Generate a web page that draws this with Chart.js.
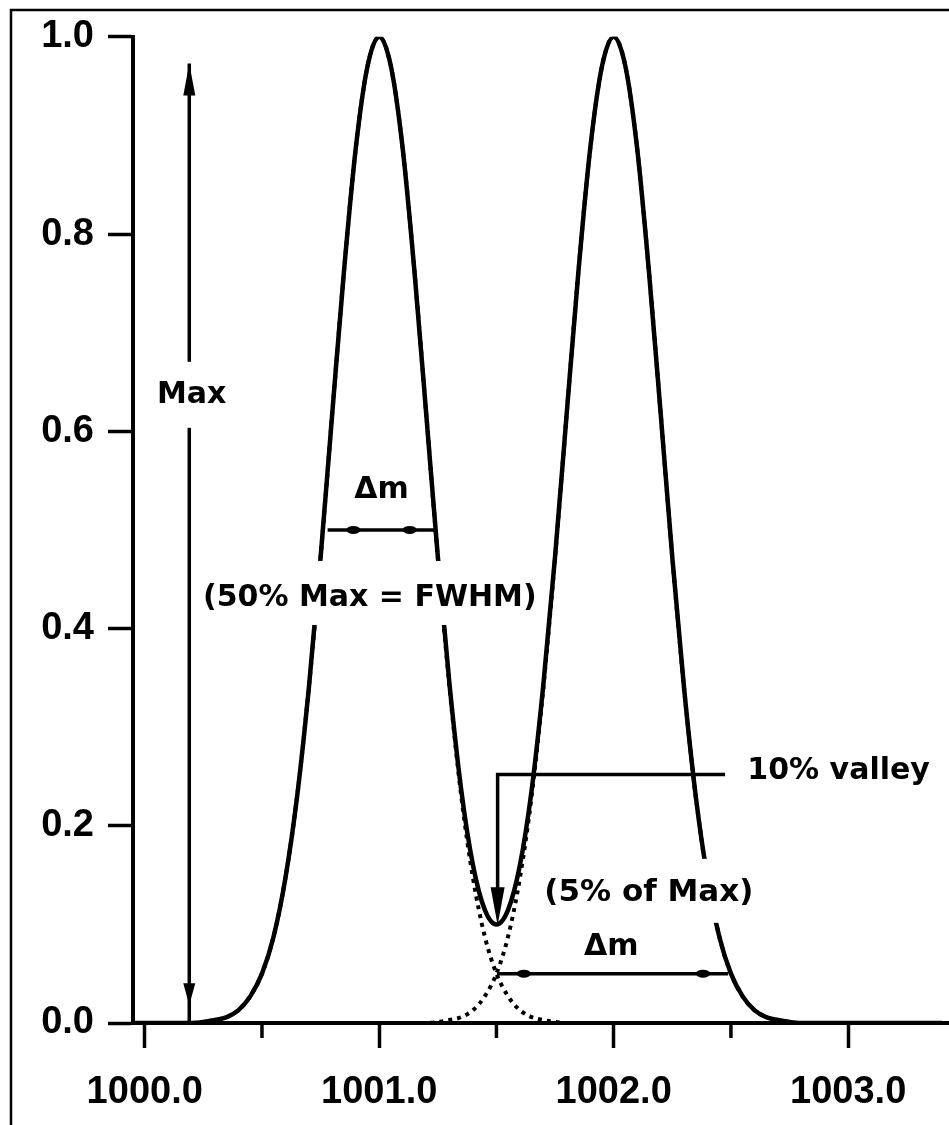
<!DOCTYPE html>
<html>
<head>
<meta charset="utf-8">
<script src="https://cdn.jsdelivr.net/npm/chart.js"></script>
<style>
  html, body { margin: 0; padding: 0; background: #fff; }
  #wrap { width: 949px; height: 1125px; position: relative; }
</style>
</head>
<body>
<div id="wrap"><canvas id="peakChart"></canvas></div>
<script>
// mass axis (m/z), sampled every 0.05
const massAxis = [
    999.95, 1000.00, 1000.05, 1000.10, 1000.15, 1000.20, 1000.25, 1000.30, 1000.35, 1000.40,
    1000.45, 1000.50, 1000.55, 1000.60, 1000.65, 1000.70, 1000.75, 1000.80, 1000.85, 1000.90,
    1000.95, 1001.00, 1001.05, 1001.10, 1001.15, 1001.20, 1001.25, 1001.30, 1001.35, 1001.40,
    1001.45, 1001.50, 1001.55, 1001.60, 1001.65, 1001.70, 1001.75, 1001.80, 1001.85, 1001.90,
    1001.95, 1002.00, 1002.05, 1002.10, 1002.15, 1002.20, 1002.25, 1002.30, 1002.35, 1002.40,
    1002.45, 1002.50, 1002.55, 1002.60, 1002.65, 1002.70, 1002.75, 1002.80, 1002.85, 1002.90,
    1002.95, 1003.00, 1003.05, 1003.10, 1003.15, 1003.20, 1003.25, 1003.30, 1003.35, 1003.40,
];

// observed (summed) signal, solid line
const totalSignal = [
    0, 0, 0, 0, 0, 0, 0.001, 0.003, 0.006, 0.013,
    0.027, 0.050, 0.088, 0.147, 0.230, 0.340, 0.472, 0.619, 0.763, 0.887,
    0.970, 1.000, 0.970, 0.887, 0.763, 0.619, 0.473, 0.343, 0.236, 0.160,
    0.115, 0.100, 0.115, 0.160, 0.236, 0.343, 0.473, 0.619, 0.763, 0.887,
    0.970, 1.000, 0.970, 0.887, 0.763, 0.619, 0.472, 0.340, 0.230, 0.147,
    0.088, 0.050, 0.027, 0.013, 0.006, 0.003, 0.001, 0, 0, 0,
    0, 0, 0, 0, 0, 0, 0, 0, 0, 0,
];

// single peak at 1001.0, dotted
const peakOne = [
    null, null, null, null, null, 0, 0.001, 0.003, 0.006, 0.013,
    0.027, 0.050, 0.088, 0.147, 0.230, 0.340, 0.472, 0.619, 0.763, 0.887,
    0.970, 1.000, 0.970, 0.887, 0.763, 0.619, 0.472, 0.340, 0.230, 0.147,
    0.088, 0.050, 0.027, 0.013, 0.006, 0.003, 0.001, 0, 0, 0,
    0, 0, 0, 0, 0, 0, 0, 0, 0, 0,
    0, 0, 0, 0, 0, null, null, null, null, null,
    null, null, null, null, null, null, null, null, null, null,
];

// single peak at 1002.0, dotted
const peakTwo = [
    null, null, null, null, null, null, null, null, null, null,
    null, null, null, null, null, null, null, null, null, null,
    0, 0, 0, 0, 0, 0, 0.001, 0.003, 0.006, 0.013,
    0.027, 0.050, 0.088, 0.147, 0.230, 0.340, 0.472, 0.619, 0.763, 0.887,
    0.970, 1.000, 0.970, 0.887, 0.763, 0.619, 0.472, 0.340, 0.230, 0.147,
    0.088, 0.050, 0.027, 0.013, 0.006, 0.003, 0.001, null, null, null,
    null, null, null, null, null, null, null, null, null, null,
];

const xMajorTicks = [1000.0, 1001.0, 1002.0, 1003.0];
const xMinorTicks = [1000.5, 1001.5, 1002.5];
const yTicks = [0.0, 0.2, 0.4, 0.6, 0.8, 1.0];

const INK = "#000";
const TICK_FONT = "Liberation Sans";
const NOTE_FONT = "DejaVu Sans";

function toPoints(values) {
    return massAxis.map((m, i) => ({ x: m, y: values[i] }));
}

/******** frame, minor ticks, annotations *********/
const framePlugin = {
    id: "frame",
    beforeDraw(chart) {
        const ctx = chart.ctx;
        ctx.save();
        ctx.fillStyle = "#fff";
        ctx.fillRect(0, 0, chart.width, chart.height);
        ctx.strokeStyle = INK;
        ctx.lineWidth = 2.5;
        ctx.beginPath();
        ctx.moveTo(11, chart.height);
        ctx.lineTo(11, 10);
        ctx.lineTo(chart.width, 10);
        ctx.stroke();
        ctx.restore();
    },
};

function arrowHead(ctx, x, y, dir, len, half) {
    // dir: 1 = pointing down, -1 = pointing up
    ctx.beginPath();
    ctx.moveTo(x, y);
    ctx.lineTo(x - half, y - dir * len);
    ctx.lineTo(x + half, y - dir * len);
    ctx.closePath();
    ctx.fill();
}

function blob(ctx, x, y) {
    ctx.beginPath();
    ctx.ellipse(x, y, 7, 4, 0, 0, Math.PI * 2);
    ctx.fill();
}

function label(ctx, text, x, y, size, opts) {
    opts = opts || {};
    ctx.font = "bold " + size + "px '" + NOTE_FONT + "'";
    ctx.textAlign = opts.align || "center";
    ctx.textBaseline = "middle";
    if (opts.bgHeight) {
        const w = ctx.measureText(text).width;
        const left = opts.align === "left" ? x : x - w / 2;
        ctx.fillStyle = "#fff";
        ctx.fillRect(left - 6, y - opts.bgHeight / 2 - (opts.bgShift || 0), w + 12, opts.bgHeight);
    }
    ctx.fillStyle = INK;
    ctx.fillText(text, x, y);
}

const notesPlugin = {
    id: "notes",
    afterDatasetsDraw(chart) {
        const ctx = chart.ctx;
        const xs = chart.scales.x;
        const ys = chart.scales.y;
        const X = (v) => xs.getPixelForValue(v);
        const Y = (v) => ys.getPixelForValue(v);
        const area = chart.chartArea;

        ctx.save();
        ctx.strokeStyle = INK;
        ctx.fillStyle = INK;
        ctx.lineWidth = 3.5;

        // minor ticks on the mass axis
        xMinorTicks.forEach((m) => {
            ctx.beginPath();
            ctx.moveTo(X(m), area.bottom);
            ctx.lineTo(X(m), area.bottom + 15);
            ctx.stroke();
        });

        // Max double arrow
        ctx.beginPath();
        ctx.moveTo(X(1000.19), Y(0.973));
        ctx.lineTo(X(1000.19), Y(0));
        ctx.stroke();
        arrowHead(ctx, X(1000.19), Y(0.973), -1, 32, 6);
        arrowHead(ctx, X(1000.19), Y(0.018), 1, 22, 6);

        // FWHM arrow at 50 %
        ctx.beginPath();
        ctx.moveTo(X(1000.78), Y(0.5));
        ctx.lineTo(X(1001.24), Y(0.5));
        ctx.stroke();
        blob(ctx, X(1000.89), Y(0.5));
        blob(ctx, X(1001.13), Y(0.5));

        // Δm arrow at 5 %
        ctx.beginPath();
        ctx.moveTo(X(1001.502), Y(0.05));
        ctx.lineTo(X(1002.488), Y(0.05));
        ctx.stroke();
        blob(ctx, X(1001.617), Y(0.05));
        blob(ctx, X(1002.381), Y(0.05));

        // 10 % valley bracket
        ctx.beginPath();
        ctx.moveTo(X(1002.475), Y(0.252));
        ctx.lineTo(X(1001.505), Y(0.252));
        ctx.lineTo(X(1001.505), Y(0.099) - 30);
        ctx.stroke();
        arrowHead(ctx, X(1001.505), Y(0.099), 1, 38, 7);

        // texts
        label(ctx, "Max", X(1000.2), Y(0.637), 30, { bgHeight: 66 });
        label(ctx, "\u0394m", X(1001.01), Y(0.54), 30);
        label(ctx, "(50% Max = FWHM)", X(1000.96), Y(0.431), 30, { bgHeight: 64, bgShift: 5 });
        label(ctx, "10% valley", X(1002.57), Y(0.255), 30, { align: "left" });
        label(ctx, "(5% of Max)", X(1002.15), Y(0.132), 31, { bgHeight: 64, bgShift: 2 });
        label(ctx, "\u0394m", X(1001.99), Y(0.077), 30);

        ctx.restore();
    },
};

/******** peak line chart *********/
const peak_ctx = document.getElementById("peakChart").getContext("2d");
const peakChart = new Chart(peak_ctx, {
    type: "line",
    data: {
        datasets: [
            {
                label: "Observed",
                data: toPoints(totalSignal),
                borderColor: INK,
                borderWidth: 4.5,
                pointRadius: 0,
                cubicInterpolationMode: "monotone",
                order: 0,
            },
            {
                label: "Peak 1001",
                data: toPoints(peakOne),
                borderColor: INK,
                borderWidth: 4,
                borderDash: [4, 5],
                pointRadius: 0,
                cubicInterpolationMode: "monotone",
                order: 1,
            },
            {
                label: "Peak 1002",
                data: toPoints(peakTwo),
                borderColor: INK,
                borderWidth: 4,
                borderDash: [4, 5],
                pointRadius: 0,
                cubicInterpolationMode: "monotone",
                order: 2,
            },
        ],
    },
    options: {
        responsive: true,
        maintainAspectRatio: false,
        animation: false,
        layout: {
            padding: { top: 33, left: 0, right: 0, bottom: 0 },
        },
        plugins: {
            legend: { display: false },
            tooltip: { enabled: false },
        },
        scales: {
            x: {
                type: "linear",
                min: 999.95,
                max: 1003.43,
                afterBuildTicks: (s) => {
                    s.ticks = xMajorTicks.map((v) => ({ value: v }));
                },
                afterFit: (s) => {
                    s.height = 102;
                },
                border: { display: true, color: INK, width: 4 },
                grid: {
                    drawOnChartArea: false,
                    drawTicks: true,
                    tickLength: 25,
                    tickWidth: 3.5,
                    color: INK,
                    tickColor: INK,
                },
                ticks: {
                    color: INK,
                    font: { family: TICK_FONT, size: 38, weight: "bold" },
                    padding: 22,
                    maxRotation: 0,
                    autoSkip: false,
                    callback: (v) => Number(v).toFixed(1),
                },
            },
            y: {
                type: "linear",
                min: 0,
                max: 1.0,
                afterBuildTicks: (s) => {
                    s.ticks = yTicks.map((v) => ({ value: v }));
                },
                afterFit: (s) => {
                    s.width = 133;
                },
                border: { display: true, color: INK, width: 4 },
                grid: {
                    drawOnChartArea: false,
                    drawTicks: true,
                    tickLength: 25,
                    tickWidth: 3.5,
                    color: INK,
                    tickColor: INK,
                },
                ticks: {
                    color: INK,
                    font: { family: TICK_FONT, size: 38, weight: "bold" },
                    padding: 14,
                    autoSkip: false,
                    callback: (v) => Number(v).toFixed(1),
                },
            },
        },
    },
    plugins: [framePlugin, notesPlugin],
});
</script>
</body>
</html>
